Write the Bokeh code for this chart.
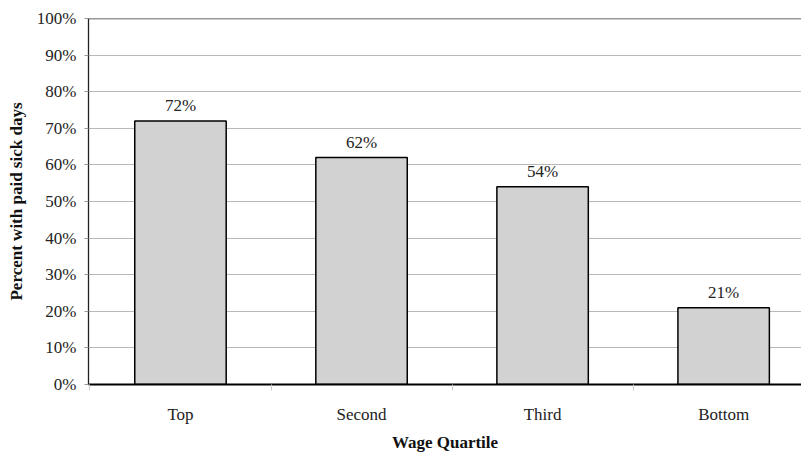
from bokeh.plotting import figure
from bokeh.models import ColumnDataSource, Range1d, FixedTicker, Span, LabelSet
from bokeh.embed import file_html
from bokeh.resources import INLINE

categories = ["Top", "Second", "Third", "Bottom"]
values = [72, 62, 54, 21]
labels = ["72%", "62%", "54%", "21%"]
y_ticks = [0, 10, 20, 30, 40, 50, 60, 70, 80, 90, 100]

xs = list(range(len(categories)))
src = ColumnDataSource(dict(x=xs, top=values, lab=labels))

FONT = "Liberation Serif"

p = figure(width=801, height=454, output_backend="svg", toolbar_location=None,
           x_range=Range1d(-0.508, 3.43), y_range=Range1d(0, 100),
           min_border_left=88, min_border_right=0, min_border_top=18, min_border_bottom=63)
p.outline_line_color = None
p.background_fill_color = "white"
p.border_fill_color = "white"

p.vbar(x="x", top="top", width=0.505, bottom=0, source=src,
       fill_color="#d2d2d2", line_color="black", line_width=1.5)

p.add_layout(LabelSet(x="x", y="top", text="lab", source=src, text_align="center",
                      text_baseline="alphabetic", y_offset=10, text_font=FONT,
                      text_font_size="17px", text_color="#222222"))

# x axis
p.xaxis.ticker = FixedTicker(ticks=xs, minor_ticks=[-0.5, 0.5, 1.5, 2.5])
p.xaxis.major_label_overrides = {i: c for i, c in enumerate(categories)}
p.xaxis.major_tick_line_color = None
p.xaxis.minor_tick_out = 6
p.xaxis.minor_tick_in = 0
p.xaxis.minor_tick_line_color = "#cccccc"
p.xaxis.axis_line_color = "black"
p.xaxis.axis_line_width = 1.8
p.xaxis.major_label_text_font = FONT
p.xaxis.major_label_text_font_size = "17px"
p.xaxis.major_label_text_color = "#222222"
p.xaxis.major_label_standoff = 14
p.xaxis.axis_label = "Wage Quartile"
p.xaxis.axis_label_text_font = FONT
p.xaxis.axis_label_text_font_style = "bold"
p.xaxis.axis_label_text_font_size = "17px"
p.xaxis.axis_label_text_color = "#111111"
p.xaxis.axis_label_standoff = 6
p.xgrid.grid_line_color = None

# y axis
p.yaxis.ticker = FixedTicker(ticks=y_ticks)
p.yaxis.major_label_overrides = {t: f"{t}%" for t in y_ticks}
p.yaxis.major_tick_out = 4
p.yaxis.major_tick_in = 0
p.yaxis.major_tick_line_color = "#999999"
p.yaxis.minor_tick_line_color = None
p.yaxis.axis_line_color = "#222222"
p.yaxis.axis_line_width = 1.3
p.yaxis.major_label_text_font = FONT
p.yaxis.major_label_text_font_size = "17px"
p.yaxis.major_label_text_color = "#222222"
p.yaxis.major_label_standoff = 8
p.yaxis.axis_label = "Percent with paid sick days"
p.yaxis.axis_label_text_font = FONT
p.yaxis.axis_label_text_font_style = "bold"
p.yaxis.axis_label_text_font_size = "17px"
p.yaxis.axis_label_text_color = "#111111"
p.yaxis.axis_label_standoff = 8
p.ygrid.grid_line_color = "#b8b8b8"
p.ygrid.grid_line_width = 1

p.add_layout(Span(location=100, dimension="width", line_color="#333333", line_width=1.5))

open("out.html", "w").write(file_html(p, INLINE))
